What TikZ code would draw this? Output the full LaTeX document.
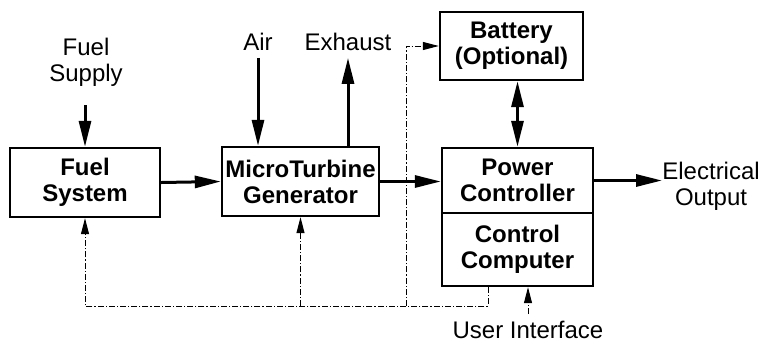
\documentclass[tikz,border=0pt]{standalone}
\usepackage{fontspec}
\setmainfont{Liberation Sans}
\usetikzlibrary{positioning, arrows.meta}

\begin{document}
\begin{tikzpicture}[x=0.5pt, y=-0.5pt,
    every node/.style={font=\fontsize{12}{13}\selectfont, align=center},
    block/.style={draw, line width=1.2pt, minimum width=75.5pt, font=\fontsize{12}{13}\selectfont\bfseries, inner sep=0pt},
    flow/.style={line width=1.5pt, -{Triangle[length=13pt, width=6pt]}},
    signal/.style={line width=0.5pt, dash pattern=on 3pt off 1pt on 0.6pt off 1pt}]
    \useasboundingbox (0, 0) rectangle (761, 349);

    % blocks
    \node[block, minimum width=75pt, minimum height=34.5pt] (fuelsys) at (85, 182.5) {Fuel\\System};
    \node[block, minimum width=78.5pt, minimum height=34.5pt] (mtg) at (300.5, 181.5) {MicroTurbine\\Generator};
    \node[block, minimum width=71.5pt, minimum height=34pt] (battery) at (511.5, 46) {Battery\\(Optional)};
    \node[block, minimum height=32.5pt] (power) at (517.5, 180.5) {Power\\Controller};
    \node[block, minimum height=36.5pt] (ccomp) at (517.5, 249.5) {Control\\Computer};

    % labels
    \node (fuelsupply) at (86, 62) {Fuel\\Supply};
    \node (air) at (258, 42) {Air};
    \node (exhaust) at (348, 42) {Exhaust};
    \node[anchor=west, inner sep=0pt] (elec) at (662, 186) {Electrical\\Output};
    \node (user) at (528, 330) {User Interface};

    % main flows
    \draw[flow] (fuelsupply.south -| fuelsys.north) ++(0, 12) -- (fuelsys.north);
    \draw[flow] (air.south) -- (air.south |- mtg.north);
    \draw[flow] (exhaust.south |- mtg.north) -- (exhaust.south);
    \draw[flow] (fuelsys.east) -- (mtg.west);
    \draw[flow] (mtg.east) -- (mtg.east -| power.west);
    \draw[flow] (power.east) -- (power.east -| elec.west);
    \draw[line width=1.5pt, {Triangle[length=13pt, width=6pt]}-{Triangle[length=13pt, width=6pt]}] (power.north |- battery.south) -- (power.north);

    % control signals
    \coordinate (busL) at (85, 306);
    \coordinate (busR) at (488, 306);
    \coordinate (busB) at (406, 306);
    \draw[signal, -{Triangle[length=8pt, width=4pt]}] (ccomp.south -| busR) -- (busR) -- (busL) -- (fuelsys.south);
    \draw[signal, -{Triangle[length=8pt, width=4pt]}] (mtg.south |- busL) -- (mtg.south);
    \draw[signal, -{Triangle[length=8pt, width=4pt]}] (busB) -- (busB |- battery.west) -- (battery.west);
    \draw[signal, -{Triangle[length=8pt, width=4pt]}] (user.north) -- (user.north |- ccomp.south);
\end{tikzpicture}
\end{document}
